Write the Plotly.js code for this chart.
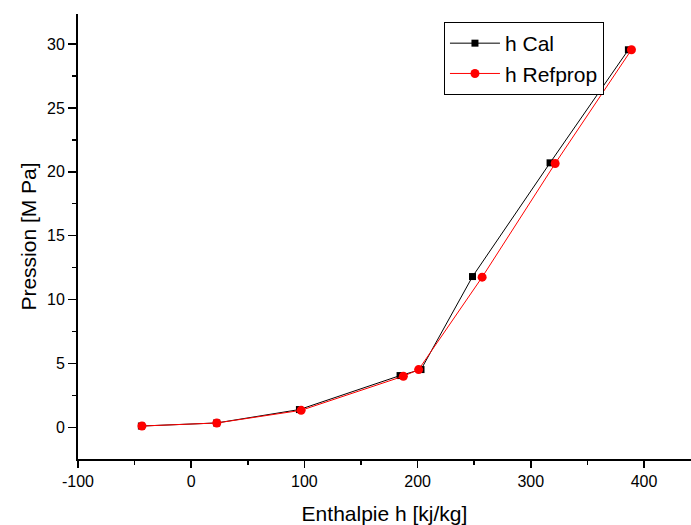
<!DOCTYPE html>
<html>
<head>
<meta charset="utf-8">
<script src="https://cdn.plot.ly/plotly-3.0.1.min.js"></script>
<style>html,body{margin:0;padding:0;background:#fff;}#chart{width:691px;height:525px;}</style>
</head>
<body>
<div id="chart"></div>
<script>
const seriesNames = ["h Cal", "h Refprop"];
const calX = [-44, 22.5, 95.6, 184.5, 203, 248.5, 317, 386.2];
const calY = [0.1, 0.34, 1.39, 4.05, 4.52, 11.8, 20.7, 29.55];
const refX = [-43.5, 22.6, 97.1, 187.4, 200.9, 257, 321.5, 388.9];
const refY = [0.1, 0.34, 1.33, 4.0, 4.52, 11.75, 20.65, 29.55];
const xTickVals = [-100, 0, 100, 200, 300, 400];
const xTickText = ["-100", "0", "100", "200", "300", "400"];
const yTickVals = [0, 5, 10, 15, 20, 25, 30];
const xTitle = "Enthalpie h [kj/kg]";
const yTitle = "Pression [M Pa]";

const font = "Liberation Sans, Arial, sans-serif";

const traces = [
  {x: calX, y: calY, name: seriesNames[0], type: "scatter", mode: "lines+markers",
   line: {color: "#000000", width: 1}, marker: {symbol: "square", size: 7, color: "#000000"}},
  {x: refX, y: refY, name: seriesNames[1], type: "scatter", mode: "lines+markers",
   line: {color: "#ff0000", width: 1}, marker: {symbol: "circle", size: 9, color: "#ff0000"}}
];

const layout = {
  width: 691, height: 525,
  margin: {l: 78, r: 0, t: 14, b: 66},
  paper_bgcolor: "#ffffff", plot_bgcolor: "#ffffff",
  font: {family: font, color: "#000000"},
  showlegend: true,
  legend: {x: 0.597, y: 0.982, xanchor: "left", yanchor: "top",
           bordercolor: "#000000", borderwidth: 1, bgcolor: "#ffffff",
           itemwidth: 50, tracegroupgap: 0,
           font: {family: font, size: 21}},
  xaxis: {range: [-100, 441.5], tickvals: xTickVals, ticktext: xTickText,
          ticks: "outside", ticklen: 7, tickwidth: 1.5, tickcolor: "#000",
          showline: true, linecolor: "#000", linewidth: 2, showgrid: false, zeroline: false,
          minor: {dtick: 50, tick0: -100, ticks: "outside", ticklen: 4, tickwidth: 1.5, tickcolor: "#000", showgrid: false},
          tickfont: {size: 16, family: font},
          title: {text: xTitle, font: {size: 21, family: font}, standoff: 17}},
  xaxis2: {overlaying: "x", side: "top", matches: "x", range: [-100, 441.5],
           tickvals: xTickVals, ticks: "inside", ticklen: 3, tickwidth: 1, tickcolor: "#000",
           showticklabels: false, showline: true, linecolor: "#000", linewidth: 2, showgrid: false, zeroline: false,
           minor: {dtick: 50, tick0: -100, ticks: "inside", ticklen: 2, tickcolor: "#000", showgrid: false}},
  yaxis: {range: [-2.48, 32.35], tickvals: yTickVals,
          ticks: "outside", ticklen: 8, tickwidth: 1.5, tickcolor: "#000",
          showline: true, linecolor: "#000", linewidth: 2, showgrid: false, zeroline: false,
          minor: {dtick: 2.5, tick0: 0, ticks: "outside", ticklen: 4, tickwidth: 1.5, tickcolor: "#000", showgrid: false},
          tickfont: {size: 16, family: font},
          title: {text: yTitle, font: {size: 21, family: font}, standoff: 5}}
};

Plotly.newPlot("chart", traces, layout, {displayModeBar: false, staticPlot: true});
</script>
</body>
</html>
